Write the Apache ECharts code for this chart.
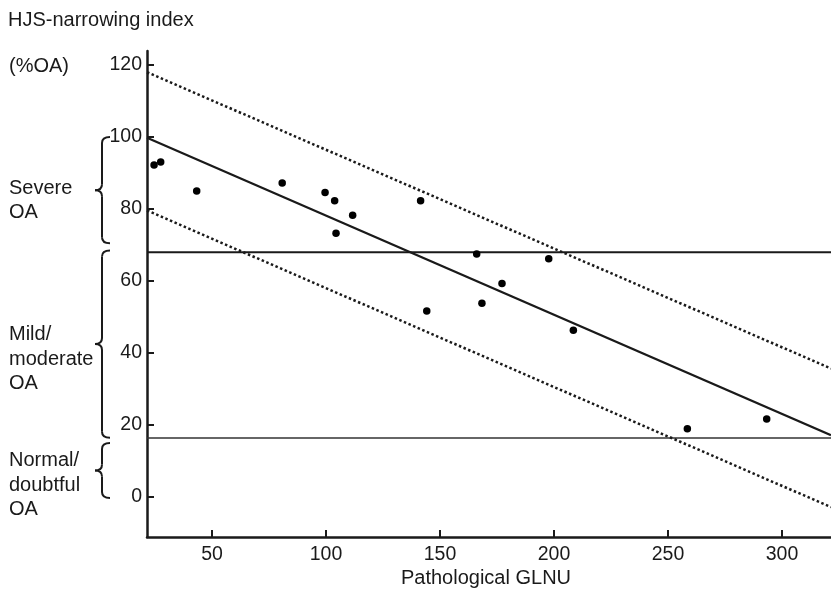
<!DOCTYPE html>
<html>
<head>
<meta charset="utf-8">
<script src="https://cdn.jsdelivr.net/npm/echarts@6/dist/echarts.min.js"></script>
<style>
  html, body { margin: 0; padding: 0; background: #fff; }
  #chart { width: 831px; height: 591px; }
</style>
</head>
<body>
<div id="chart"></div>
<script>
// scatter points (Pathological GLNU, HJS-narrowing index)
const glnu = [24.6, 27.5, 43.3, 80.8, 99.6, 103.8, 104.4, 111.7, 141.5, 144.2, 166.1, 168.4, 177.2, 197.7, 208.5, 258.5, 293.3];
const hjs  = [92.2, 93.1, 85.0, 87.2, 84.6, 82.3, 73.3, 78.3, 82.3, 51.7, 67.5, 53.8, 59.3, 66.2, 46.3, 19.0, 21.7];

// regression line and dotted limits, read at the two ends of the axis
const lineX  = [21.5, 321.5];
const fitY   = [99.8, 17.2];
const upperY = [118.0, 35.7];
const lowerY = [79.6, -2.8];

// grade cut-offs
const cutY = [68.0, 16.4];

const xTicks = [50, 100, 150, 200, 250, 300];
const yTicks = [0, 20, 40, 60, 80, 100, 120];

// brace ranges (top, bottom) and their labels
const braceRanges = [[100, 70.5], [68.5, 16.5], [15, -0.3]];
const braceLabels = [['Severe', 'OA'], ['Mild/', 'moderate', 'OA'], ['Normal/', 'doubtful', 'OA']];

const font = 'Liberation Sans, Arial, sans-serif';
const ink = '#1a1a1a';

const chart = echarts.init(document.getElementById('chart'));

function pair(xs, ys) {
  return xs.map((x, i) => [x, ys[i]]);
}

chart.setOption({
  animation: false,
  grid: { left: 147, right: 0, top: 51, bottom: 54 },
  xAxis: {
    type: 'value',
    min: 21.5,
    max: 321.5,
    splitLine: { show: false },
    axisLine: { onZero: false, lineStyle: { color: ink, width: 2.5 } },
    axisTick: { inside: true, length: 7, customValues: xTicks, lineStyle: { color: ink, width: 2 } },
    axisLabel: { customValues: xTicks, color: ink, fontSize: 19.5, fontFamily: font, margin: 8 }
  },
  yAxis: {
    type: 'value',
    min: -11.1,
    max: 123.9,
    splitLine: { show: false },
    axisLine: { show: true, onZero: false, lineStyle: { color: ink, width: 2.5 } },
    axisTick: { show: true, inside: true, length: 7, customValues: yTicks, lineStyle: { color: ink, width: 2 } },
    axisLabel: { customValues: yTicks, color: ink, fontSize: 19.5, fontFamily: font, margin: 5 }
  },
  series: [
    {
      type: 'line', data: pair(lineX, [cutY[0], cutY[0]]), symbol: 'none',
      lineStyle: { color: ink, width: 2 }
    },
    {
      type: 'line', data: pair(lineX, [cutY[1], cutY[1]]), symbol: 'none',
      lineStyle: { color: '#333', width: 1.6 }
    },
    {
      type: 'line', data: pair(lineX, fitY), symbol: 'none',
      lineStyle: { color: ink, width: 2.2 }
    },
    {
      type: 'line', data: pair(lineX, upperY), symbol: 'none',
      lineStyle: { color: ink, width: 2.5, type: [2.5, 2.5] }
    },
    {
      type: 'line', data: pair(lineX, lowerY), symbol: 'none',
      lineStyle: { color: ink, width: 2.5, type: [2.5, 2.5] }
    },
    {
      type: 'scatter', data: pair(glnu, hjs), symbolSize: 7.5,
      itemStyle: { color: '#000', opacity: 1 }, z: 5
    }
  ]
});

// texts and braces
const elements = [];
function addText(text, x, y, align) {
  elements.push({
    type: 'text',
    style: { text: text, x: x, y: y, fill: ink, font: '20px ' + font, textAlign: align || 'left', textVerticalAlign: 'middle' }
  });
}
addText('HJS-narrowing index', 8, 20);
addText('(%OA)', 9, 66);
addText('Pathological GLNU', 486, 578, 'center');

const labelRows = [[188.5, 212.5], [334.5, 359, 383], [460.5, 485.5, 509.5]];
braceLabels.forEach((lines, i) => {
  lines.forEach((t, j) => addText(t, 9, labelRows[i][j]));
});

const bStroke = { stroke: ink, lineWidth: 2, fill: null };
braceRanges.forEach(r => {
  const top = chart.convertToPixel({ yAxisIndex: 0 }, r[0]);
  const bot = chart.convertToPixel({ yAxisIndex: 0 }, r[1]);
  const mid = (top + bot) / 2;
  const xb = 102, xr = 110, xt = 95, k = 6;
  elements.push(
    { type: 'bezierCurve', shape: { x1: xr, y1: top, cpx1: xb, cpy1: top, x2: xb, y2: top + k }, style: bStroke },
    { type: 'line', shape: { x1: xb, y1: top + k, x2: xb, y2: mid - k }, style: bStroke },
    { type: 'bezierCurve', shape: { x1: xb, y1: mid - k, cpx1: xb, cpy1: mid, x2: xt, y2: mid }, style: bStroke },
    { type: 'bezierCurve', shape: { x1: xt, y1: mid, cpx1: xb, cpy1: mid, x2: xb, y2: mid + k }, style: bStroke },
    { type: 'line', shape: { x1: xb, y1: mid + k, x2: xb, y2: bot - k }, style: bStroke },
    { type: 'bezierCurve', shape: { x1: xb, y1: bot - k, cpx1: xb, cpy1: bot, x2: xr, y2: bot }, style: bStroke }
  );
});

chart.setOption({ graphic: { elements: elements } });
</script>
</body>
</html>
